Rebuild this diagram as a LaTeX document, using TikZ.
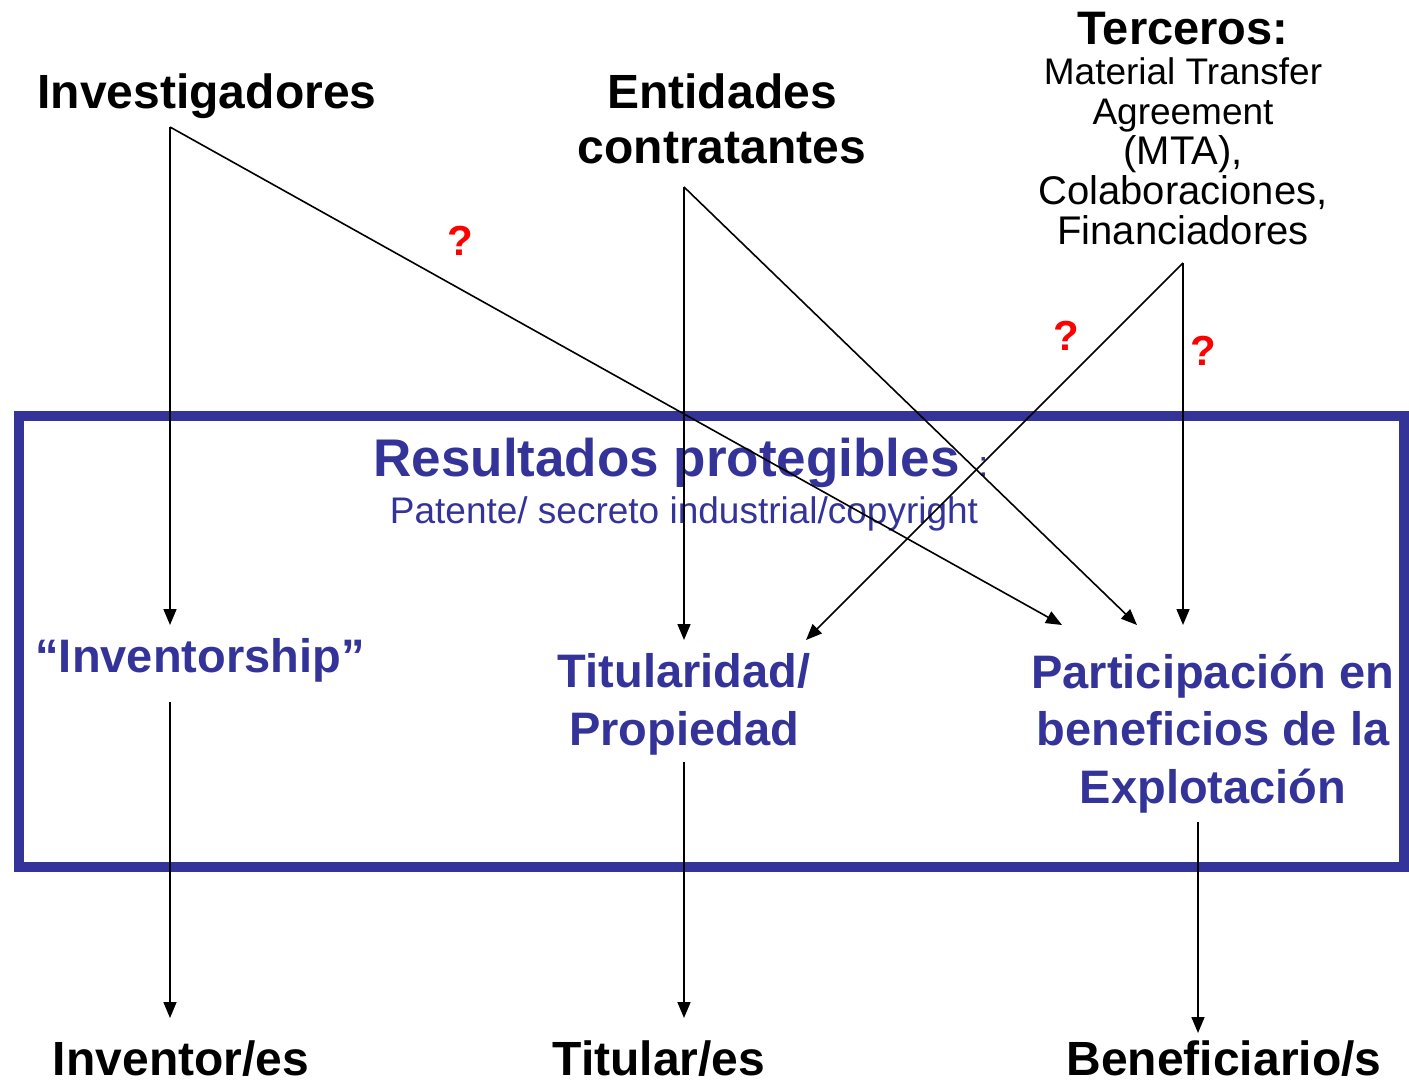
\documentclass[tikz,border=0pt]{standalone}
\usepackage{fontspec}
\setmainfont{Liberation Sans}
\usetikzlibrary{arrows.meta}
\definecolor{azul}{HTML}{333399}
\tikzset{
  quien/.style={font=\fontsize{48}{55}\selectfont\bfseries, inner sep=0pt, anchor=base, align=center},
  concepto/.style={quien, text=azul, font=\fontsize{47}{57.5}\selectfont\bfseries},
  duda/.style={font=\fontsize{42}{42}\selectfont\bfseries, text=red, inner sep=0pt, anchor=base},
  flecha/.style={line width=1.6pt, -{Triangle[length=16pt,width=13pt]}},
}

\begin{document}
\begin{tikzpicture}[x=1pt,y=-1pt]
  \useasboundingbox (0,0) rectangle (1409,1081);
  % marco de los resultados
  \draw[azul, line width=10pt] (18.5,415.5) rectangle (1404,867);

  % quienes intervienen (base = ultima linea)
  \node[quien] (invest) at (207,108) {Investigadores};
  \node[quien] (entid)  at (722,163) {Entidades\\contratantes};
  \node[quien, font=\fontsize{47}{47}\selectfont\bfseries] (terc) at (1183,45) {Terceros:};
  \node[inner sep=0pt, anchor=base, align=center, font=\fontsize{37}{40}\selectfont] (terc-txt) at (1183,244)
    {Material Transfer\\Agreement\\{\fontsize{40}{40}\selectfont (MTA),}\\{\fontsize{40}{41}\selectfont Colaboraciones,}\\{\fontsize{40}{41}\selectfont Financiadores}};

  % dentro del marco
  \node[inner sep=0pt, anchor=base, text=azul, font=\fontsize{53}{53}\selectfont\bfseries] (result) at (681,476)
    {Resultados protegibles\,{\fontsize{36}{36}\selectfont\mdseries\ :}};
  \node[inner sep=0pt, anchor=base, text=azul, font=\fontsize{37}{37}\selectfont] (tipos) at (684,523)
    {Patente/ secreto industrial/copyright};
  \node[concepto] (inventorship) at (200,672) {“Inventorship”};
  \node[concepto] (titularidad)  at (684,745) {Titularidad/\\Propiedad};
  \node[concepto] (particip)     at (1213,803) {Participación en\\beneficios de la\\Explotación};

  % resultado final
  \node[quien] (inventor)  at (181,1075) {Inventor/es};
  \node[quien] (titular)   at (659,1075) {Titular/es};
  \node[quien] (benefic)   at (1224,1075) {Beneficiario/s};

  % dudas
  \node[duda] (duda1) at (460,255) {?};
  \node[duda] (duda2) at (1066,350) {?};
  \node[duda] (duda3) at (1203,365) {?};

  % puntos de partida y llegada
  \coordinate (ap-invest) at (170,127);
  \coordinate (ap-entid)  at (684,187);
  \coordinate (ap-terc)   at (1183,263);
  \coordinate (in-inventorship) at (170,625);
  \coordinate (in-titul)   at (684,640);
  \coordinate (in-titul2)  at (806,640);
  \coordinate (in-part1)   at (1062,625);
  \coordinate (in-part2)   at (1137,625);
  \coordinate (in-part3)   at (1183,625);
  \coordinate (out-inventorship) at (170,702);
  \coordinate (out-titul)  at (684,762);
  \coordinate (out-part)   at (1198,822);
  \coordinate (in-inventor) at (170,1018);
  \coordinate (in-titular)  at (684,1018);
  \coordinate (in-benefic)  at (1198,1033);

  \draw[flecha] (ap-invest) -- (in-inventorship);
  \draw[flecha] (ap-invest) -- (in-part1);
  \draw[flecha] (ap-entid) -- (in-titul);
  \draw[flecha] (ap-entid) -- (in-part2);
  \draw[flecha] (ap-terc) -- (in-titul2);
  \draw[flecha] (ap-terc) -- (in-part3);
  \draw[flecha] (out-inventorship) -- (in-inventor);
  \draw[flecha] (out-titul) -- (in-titular);
  \draw[flecha] (out-part) -- (in-benefic);
\end{tikzpicture}
\end{document}
